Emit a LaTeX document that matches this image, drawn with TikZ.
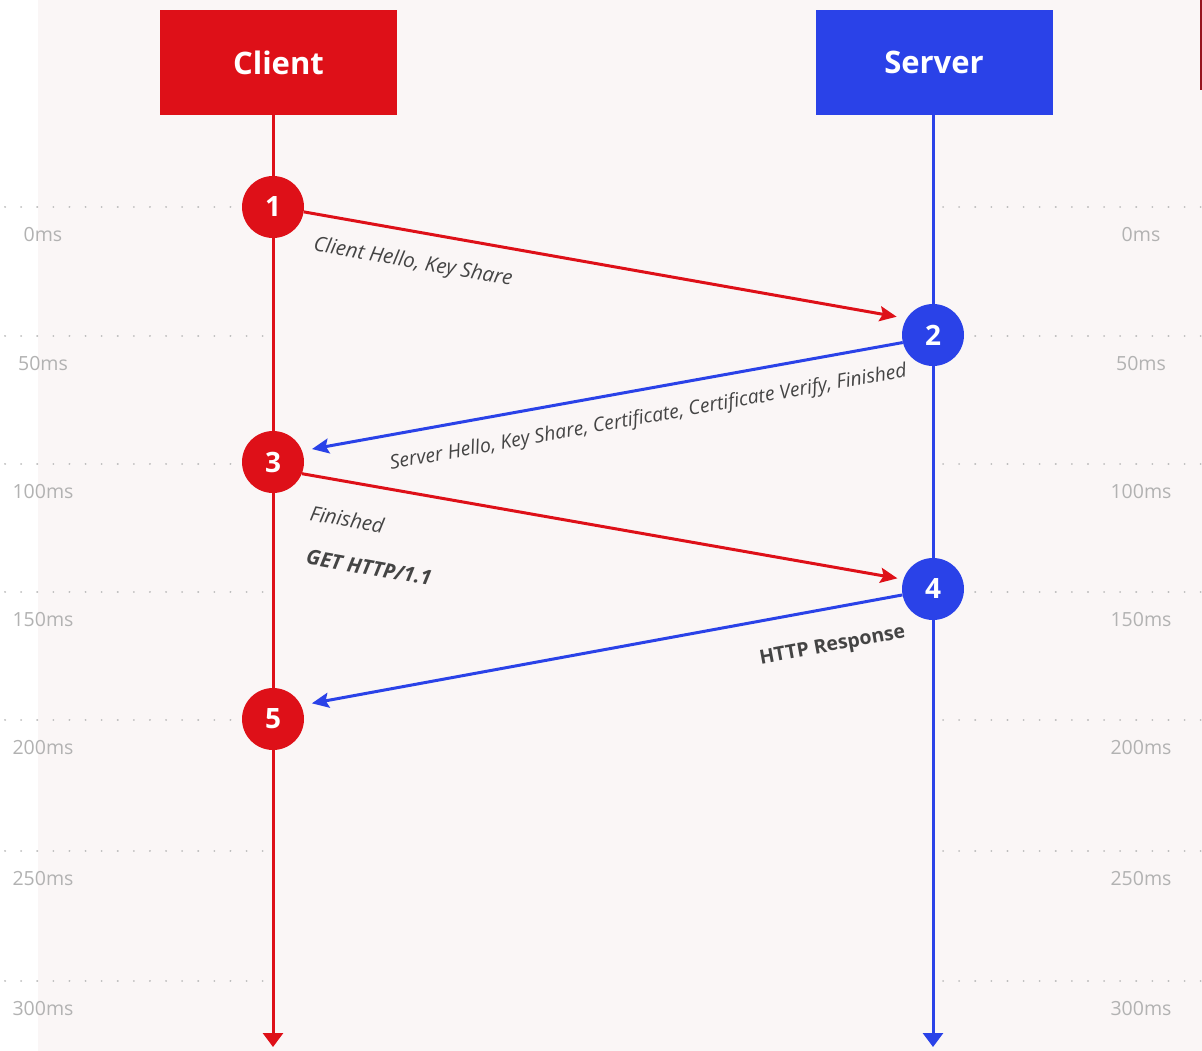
\documentclass[tikz,border=0pt]{standalone}
\usepackage{fontspec}
\setmainfont{Open Sans}
\usetikzlibrary{arrows.meta}
\definecolor{cred}{RGB}{222,16,24}
\definecolor{cblue}{RGB}{42,66,232}
\definecolor{paper}{RGB}{250,246,246}
\definecolor{gridgrey}{RGB}{190,190,190}
\definecolor{tickgrey}{RGB}{178,178,178}
\definecolor{labelgrey}{RGB}{68,68,68}
\definecolor{edgered}{RGB}{150,20,30}
\pgfdeclarelayer{paperlayer}
\pgfdeclarelayer{linelayer}
\pgfsetlayers{paperlayer,linelayer,main}
\begin{document}
\begin{tikzpicture}[x=1pt,y=-1pt,
  actor/.style={rectangle, inner sep=0pt, minimum width=237pt, minimum height=105pt,
    text=white, font=\fontsize{31}{36}\selectfont\bfseries},
  stepnum/.style={circle, inner sep=0pt, minimum size=62pt, text=white,
    font=\fontsize{28}{32}\selectfont\bfseries},
  lifeline/.style={line width=3pt, -{Triangle[length=14pt,width=20pt]}},
  msg/.style={line width=3pt, -{Stealth[length=17pt,width=15pt,inset=3pt]}},
  revmsg/.style={line width=3pt, {Stealth[length=17pt,width=15pt,inset=3pt]}-},
  gridline/.style={gridgrey, line width=2pt, line cap=round, dash pattern=on 0.1pt off 16pt},
  tick/.style={text=tickgrey, font=\fontsize{19.5}{23}\selectfont},
  lbl/.style={text=labelgrey, sloped, inner sep=0pt, anchor=center, font=\fontsize{20.5}{24}\selectfont},
  lblsmall/.style={lbl, font=\fontsize{19.5}{23}\selectfont}
]
\useasboundingbox (0,0) rectangle (1202,1051);
% backdrop
\begin{pgfonlayer}{paperlayer}
\fill[white] (0,0) rectangle (1202,1051);
\fill[paper] (38,0) rectangle (1202,1051);
\fill[edgered] (1200,0) rectangle (1202,90);
\end{pgfonlayer}

% time grid and tick labels
\foreach \yy/\t [count=\i] in {207/0ms,336/50ms,464/100ms,592/150ms,720/200ms,851/250ms,981/300ms}{
  \draw[gridline] (5,\yy) -- (264,\yy);
  \draw[gridline] (943,\yy) -- (1202,\yy);
  \node[tick] (tl\i) at (43,\yy+28) {\t};
  \node[tick] (tr\i) at (1141,\yy+28) {\t};
}

% participants
\node[actor, fill=cred] (client) at (278.5,62.5) {Client};
\node[actor, fill=cblue] (server) at (934,62.5) {Server};

% handshake steps
\node[stepnum, fill=cred]  (c1) at (273,207) {1};
\node[stepnum, fill=cblue] (c2) at (933,335) {2};
\node[stepnum, fill=cred]  (c3) at (273,462) {3};
\node[stepnum, fill=cblue] (c4) at (933,589) {4};
\node[stepnum, fill=cred]  (c5) at (273,719) {5};

\coordinate (cend) at (273,1047);
\coordinate (send) at (933,1047);

% lifelines, kept under the step circles
\begin{pgfonlayer}{linelayer}
\draw[lifeline, cred] (c1 |- client.south) -- (cend);
\draw[lifeline, cblue] (c2 |- server.south) -- (send);
\end{pgfonlayer}

% messages
\draw[msg, cred, shorten >=10pt] (c1.-9) -- (c2.148)
  node[lbl, pos=0.19, yshift=-31pt] (m1) {\itshape Client Hello, Key Share};
\draw[revmsg, cblue, shorten <=10pt] (c3.21.5) -- (c2.194.5)
  node[lblsmall, pos=0.568, yshift=-29pt] (m2) {\itshape Server Hello, Key Share, Certificate, Certificate Verify, Finished};
\draw[msg, cred, shorten >=6pt] (c3.-22.7) -- (c4.162.6)
  node[lbl, pos=0.086, yshift=-37pt] (m3a) {\itshape Finished}
  node[lbl, pos=0.135, yshift=-81pt] (m3b) {\bfseries\itshape GET HTTP/1.1};
\draw[revmsg, cblue, shorten <=11pt] (c5.26.6) -- (c4.191)
  node[lblsmall, pos=0.8725, yshift=-38pt] (m4) {\bfseries HTTP Response};
\end{tikzpicture}
\end{document}
